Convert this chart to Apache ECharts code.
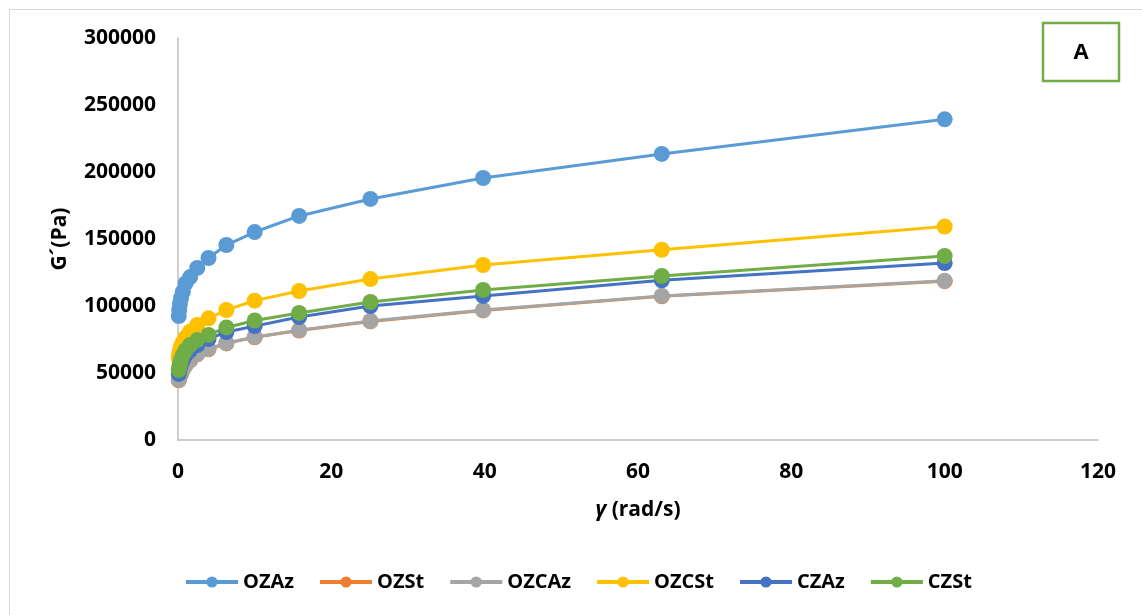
<!DOCTYPE html>
<html>
<head>
<meta charset="utf-8">
<script src="https://cdn.jsdelivr.net/npm/echarts@6/dist/echarts.min.js"></script>
<style>html,body{margin:0;padding:0;background:#fff}#c{width:1142px;height:615px}</style>
</head>
<body>
<div id="c"></div>
<script>
var frequency = [0.1, 0.158, 0.251, 0.398, 0.631, 1, 1.58, 2.51, 3.98, 6.31, 10, 15.8, 25.1, 39.8, 63.1, 100];
var seriesNames = ['OZAz', 'OZSt', 'OZCAz', 'OZCSt', 'CZAz', 'CZSt'];
var OZAz  = [92500, 97000, 101500, 106000, 110500, 117000, 121600, 128400, 135800, 145500, 155200, 167200, 179900, 195500, 213500, 239300];
var OZSt  = [44500, 46000, 47500, 49700, 52700, 55700, 59400, 63900, 67700, 72100, 76600, 81700, 88500, 96700, 107200, 118500];
var OZCAz = [44800, 46300, 47800, 50000, 53000, 56000, 59700, 64200, 68000, 72400, 76900, 82000, 88800, 97000, 107500, 118800];
var OZCSt = [61000, 64000, 67000, 70000, 73000, 76500, 80800, 85800, 90800, 97000, 104000, 111200, 120100, 130600, 142000, 159300];
var CZAz  = [49300, 51500, 53700, 56700, 59700, 63400, 67000, 70900, 75400, 80600, 85000, 91800, 100000, 107500, 119200, 132000];
var CZSt  = [52200, 54500, 56700, 59700, 63400, 67000, 70900, 74600, 78400, 84000, 89200, 94800, 103000, 112000, 122400, 137300];
var allValues = [OZAz, OZSt, OZCAz, OZCSt, CZAz, CZSt];
var colors = ['#5B9BD5', '#ED7D31', '#A5A5A5', '#FFC000', '#4472C4', '#70AD47'];

var FONT = '"Open Sans", sans-serif';
function pairs(v) { return frequency.map(function (x, i) { return [x, v[i]]; }); }

var series = seriesNames.map(function (n, k) {
  return {
    name: n, type: 'line', data: pairs(allValues[k]),
    symbol: 'circle', symbolSize: 16,
    lineStyle: { width: 3, color: colors[k] },
    itemStyle: { color: colors[k] },
    emphasis: { disabled: true },
    animation: false
  };
});

var chart = echarts.init(document.getElementById('c'), null, { renderer: 'canvas' });
chart.setOption({
  animation: false,
  backgroundColor: '#fff',
  grid: { left: 178, right: 44, top: 38, bottom: 175, containLabel: false },
  xAxis: {
    type: 'value', min: 0, max: 120, interval: 20,
    axisLine: { show: true, lineStyle: { color: '#BFBFBF', width: 1.5 } },
    axisTick: { show: false },
    splitLine: { show: false },
    axisLabel: { margin: 22, fontFamily: FONT, fontWeight: 'bold', fontSize: 21, color: '#000' },
    name: '{i|γ} (rad/s)', nameLocation: 'middle', nameGap: 60,
    nameTextStyle: { fontFamily: FONT, fontWeight: 'bold', fontSize: 21, color: '#000',
      rich: { i: { fontFamily: FONT, fontWeight: 'bold', fontStyle: 'italic', fontSize: 21, color: '#000' } } }
  },
  yAxis: {
    type: 'value', min: 0, max: 300000, interval: 50000,
    axisLine: { show: true, lineStyle: { color: '#BFBFBF', width: 1.5 } },
    axisTick: { show: false },
    splitLine: { show: false },
    axisLabel: { margin: 22, fontFamily: FONT, fontWeight: 'bold', fontSize: 21, color: '#000',
      formatter: function (v) { return String(v); } },
    name: 'G´(Pa)', nameLocation: 'middle', nameGap: 107, nameRotate: 90,
    nameTextStyle: { fontFamily: FONT, fontWeight: 'bold', fontSize: 21, color: '#000' }
  },
  legend: {
    data: seriesNames, left: 184, top: 572, padding: 0, itemWidth: 52, itemHeight: 14, itemGap: 24,
    lineStyle: { width: 4 },
    textStyle: { fontFamily: FONT, fontWeight: 'bold', fontSize: 20, color: '#000' },
    selectedMode: false
  },
  graphic: [
    { type: 'rect', z: -10, shape: { x: 9.5, y: 9.5, width: 1200, height: 700 },
      style: { fill: 'none', stroke: '#D9D9D9', lineWidth: 1 } },
    { type: 'rect', shape: { x: 1043, y: 23, width: 76, height: 58 },
      style: { fill: '#fff', stroke: '#70AD47', lineWidth: 2.5 } },
    { type: 'text', x: 1081, y: 53, style: { text: 'A', fontFamily: FONT, fontWeight: 'bold', fontSize: 22,
      fill: '#000', textAlign: 'center', textVerticalAlign: 'middle' } }
  ],
  series: series
});
</script>
</body>
</html>
